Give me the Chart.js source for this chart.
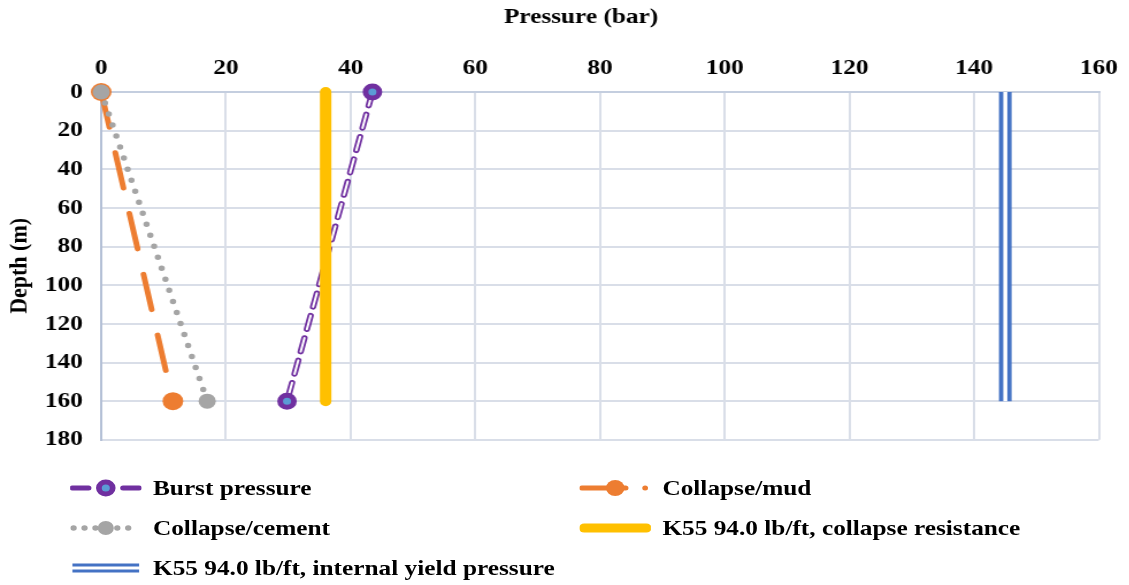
<!DOCTYPE html>
<html>
<head>
<meta charset="utf-8">
<script src="https://cdn.jsdelivr.net/npm/chart.js@4.4.1/dist/chart.umd.min.js"></script>
<style>
    body { margin: 0; background: #fff; }
    #wrap {
        position: relative;
        width: 982px;
        height: 585px;
        transform: scaleX(1.15);
        transform-origin: 0 0;
        font-family: 'Liberation Serif', 'Times New Roman', serif;
    }
    #chartBox { position: absolute; left: 0; top: 0; width: 982px; height: 469px; }
    .leg {
        position: absolute;
        display: flex;
        align-items: center;
        font-size: 22px;
        font-weight: bold;
        color: #000;
        white-space: nowrap;
        height: 26px;
    }
    .leg svg { margin-right: 10px; }
</style>
</head>
<body>
<div id="wrap">
    <div id="chartBox"><canvas id="chart"></canvas></div>

    <div class="leg" style="left:61px; top:475px;">
        <svg width="62" height="20"><line x1="2" y1="10" x2="16" y2="10" stroke="#7030a0" stroke-width="5" stroke-linecap="round"/><line x1="46" y1="10" x2="60" y2="10" stroke="#7030a0" stroke-width="5" stroke-linecap="round"/><circle cx="31" cy="10" r="6" fill="#5b9bd5" stroke="#7030a0" stroke-width="5"/></svg>Burst pressure
    </div>
    <div class="leg" style="left:504px; top:475px;">
        <svg width="62" height="20"><line x1="2" y1="10" x2="40" y2="10" stroke="#ed7d31" stroke-width="5" stroke-linecap="round"/><circle cx="31" cy="10" r="8" fill="#ed7d31"/><circle cx="57" cy="10" r="2.5" fill="#ed7d31"/></svg>Collapse/mud
    </div>
    <div class="leg" style="left:61px; top:515px;">
        <svg width="62" height="20"><line x1="3" y1="10" x2="60" y2="10" stroke="#a5a5a5" stroke-width="5.5" stroke-linecap="round" stroke-dasharray="0 9.5"/><circle cx="31" cy="10" r="7" fill="#a5a5a5"/></svg>Collapse/cement
    </div>
    <div class="leg" style="left:504px; top:515px;">
        <svg width="62" height="20"><line x1="4" y1="10" x2="58" y2="10" stroke="#ffc000" stroke-width="9" stroke-linecap="round"/></svg>K55 94.0 lb/ft, collapse resistance
    </div>
    <div class="leg" style="left:61px; top:555px;">
        <svg width="62" height="20"><line x1="2" y1="7" x2="60" y2="7" stroke="#4472c4" stroke-width="3"/><line x1="2" y1="13" x2="60" y2="13" stroke="#4472c4" stroke-width="3"/></svg>K55 94.0 lb/ft, internal yield pressure
    </div>
</div>

<script>
// depth (m) and pressure (bar) values
const depths = [0, 160];
const burstPressure = [43.5, 29.8];
const collapseMud = [0, 11.5];
const collapseCement = [0, 17];
const collapseResistance = [36, 36];
const internalYield = [145, 145];

const xTicks = [0, 20, 40, 60, 80, 100, 120, 140, 160];
const yTicks = [0, 20, 40, 60, 80, 100, 120, 140, 160, 180];

const serif = "'Liberation Serif', 'Times New Roman', serif";

function pts(values) {
    return values.map((v, i) => ({ x: v, y: depths[i] }));
}

function lineSet(values, color, width, extra) {
    return Object.assign({
        data: pts(values),
        showLine: true,
        borderColor: color,
        backgroundColor: color,
        borderWidth: width,
        pointRadius: 0,
        pointHoverRadius: 0,
        fill: false,
        clip: false
    }, extra || {});
}

const datasets = [
    // burst markers on top
    lineSet(burstPressure, '#7030a0', 0, {
        showLine: false, pointRadius: 6, pointBorderWidth: 5,
        pointBackgroundColor: '#5b9bd5', pointBorderColor: '#7030a0', order: 0
    }),
    lineSet(collapseCement, '#a5a5a5', 5.5, {
        borderDash: [0, 11.5], borderCapStyle: 'round', pointRadius: 7.5,
        pointBorderWidth: 0, pointBackgroundColor: '#a5a5a5', order: 1
    }),
    lineSet(collapseMud, '#ed7d31', 5, {
        borderDash: [36, 26], borderCapStyle: 'round', pointRadius: 9,
        pointBorderWidth: 0, pointBackgroundColor: '#ed7d31', order: 2
    }),
    lineSet(collapseResistance, '#ffc000', 10, { borderCapStyle: 'round', order: 3 }),
    // hollow dashed burst line: white core over purple
    lineSet(burstPressure, '#ffffff', 2, { borderDash: [14, 9], borderCapStyle: 'round', order: 4 }),
    lineSet(burstPressure, '#7030a0', 5.5, { borderDash: [14, 9], borderCapStyle: 'round', order: 5 }),
    // double line for internal yield
    lineSet(internalYield, '#ffffff', 3.5, { order: 6 }),
    lineSet(internalYield, '#4472c4', 11, { order: 7 })
];

new Chart(document.getElementById('chart'), {
    type: 'scatter',
    data: { datasets: datasets },
    options: {
        responsive: true,
        maintainAspectRatio: false,
        animation: false,
        layout: { padding: { top: 0, right: 25, bottom: 8, left: 0 } },
        plugins: { legend: { display: false }, tooltip: { enabled: false } },
        scales: {
            x: {
                type: 'linear',
                position: 'top',
                min: 0,
                max: 160,
                afterBuildTicks: (scale) => { scale.ticks = xTicks.map(v => ({ value: v })); },
                afterFit: (scale) => { scale.height = 92; },
                ticks: {
                    color: '#000',
                    padding: 10,
                    font: { family: serif, size: 22, weight: 'bold' }
                },
                grid: { color: '#d9dee8', lineWidth: 2, drawTicks: false },
                border: { display: true, color: '#c4cedf', width: 2 },
                title: {
                    display: true,
                    text: 'Pressure (bar)      ',
                    color: '#000',
                    padding: { top: 4, bottom: 0 },
                    font: { family: serif, size: 22, weight: 'bold' }
                }
            },
            y: {
                type: 'linear',
                reverse: true,
                min: 0,
                max: 180,
                afterBuildTicks: (scale) => { scale.ticks = yTicks.map(v => ({ value: v })); },
                afterFit: (scale) => { scale.width = 88; },
                ticks: {
                    color: '#000',
                    padding: 16,
                    font: { family: serif, size: 22, weight: 'bold' }
                },
                grid: { color: '#d9dee8', lineWidth: 2, drawTicks: false },
                border: { display: true, color: '#b4c0d6', width: 2 },
                title: {
                    display: true,
                    text: 'Depth (m)',
                    color: '#000',
                    padding: { top: 4, bottom: 0 },
                    font: { family: serif, size: 22, weight: 'bold' }
                }
            }
        }
    }
});
</script>
</body>
</html>
